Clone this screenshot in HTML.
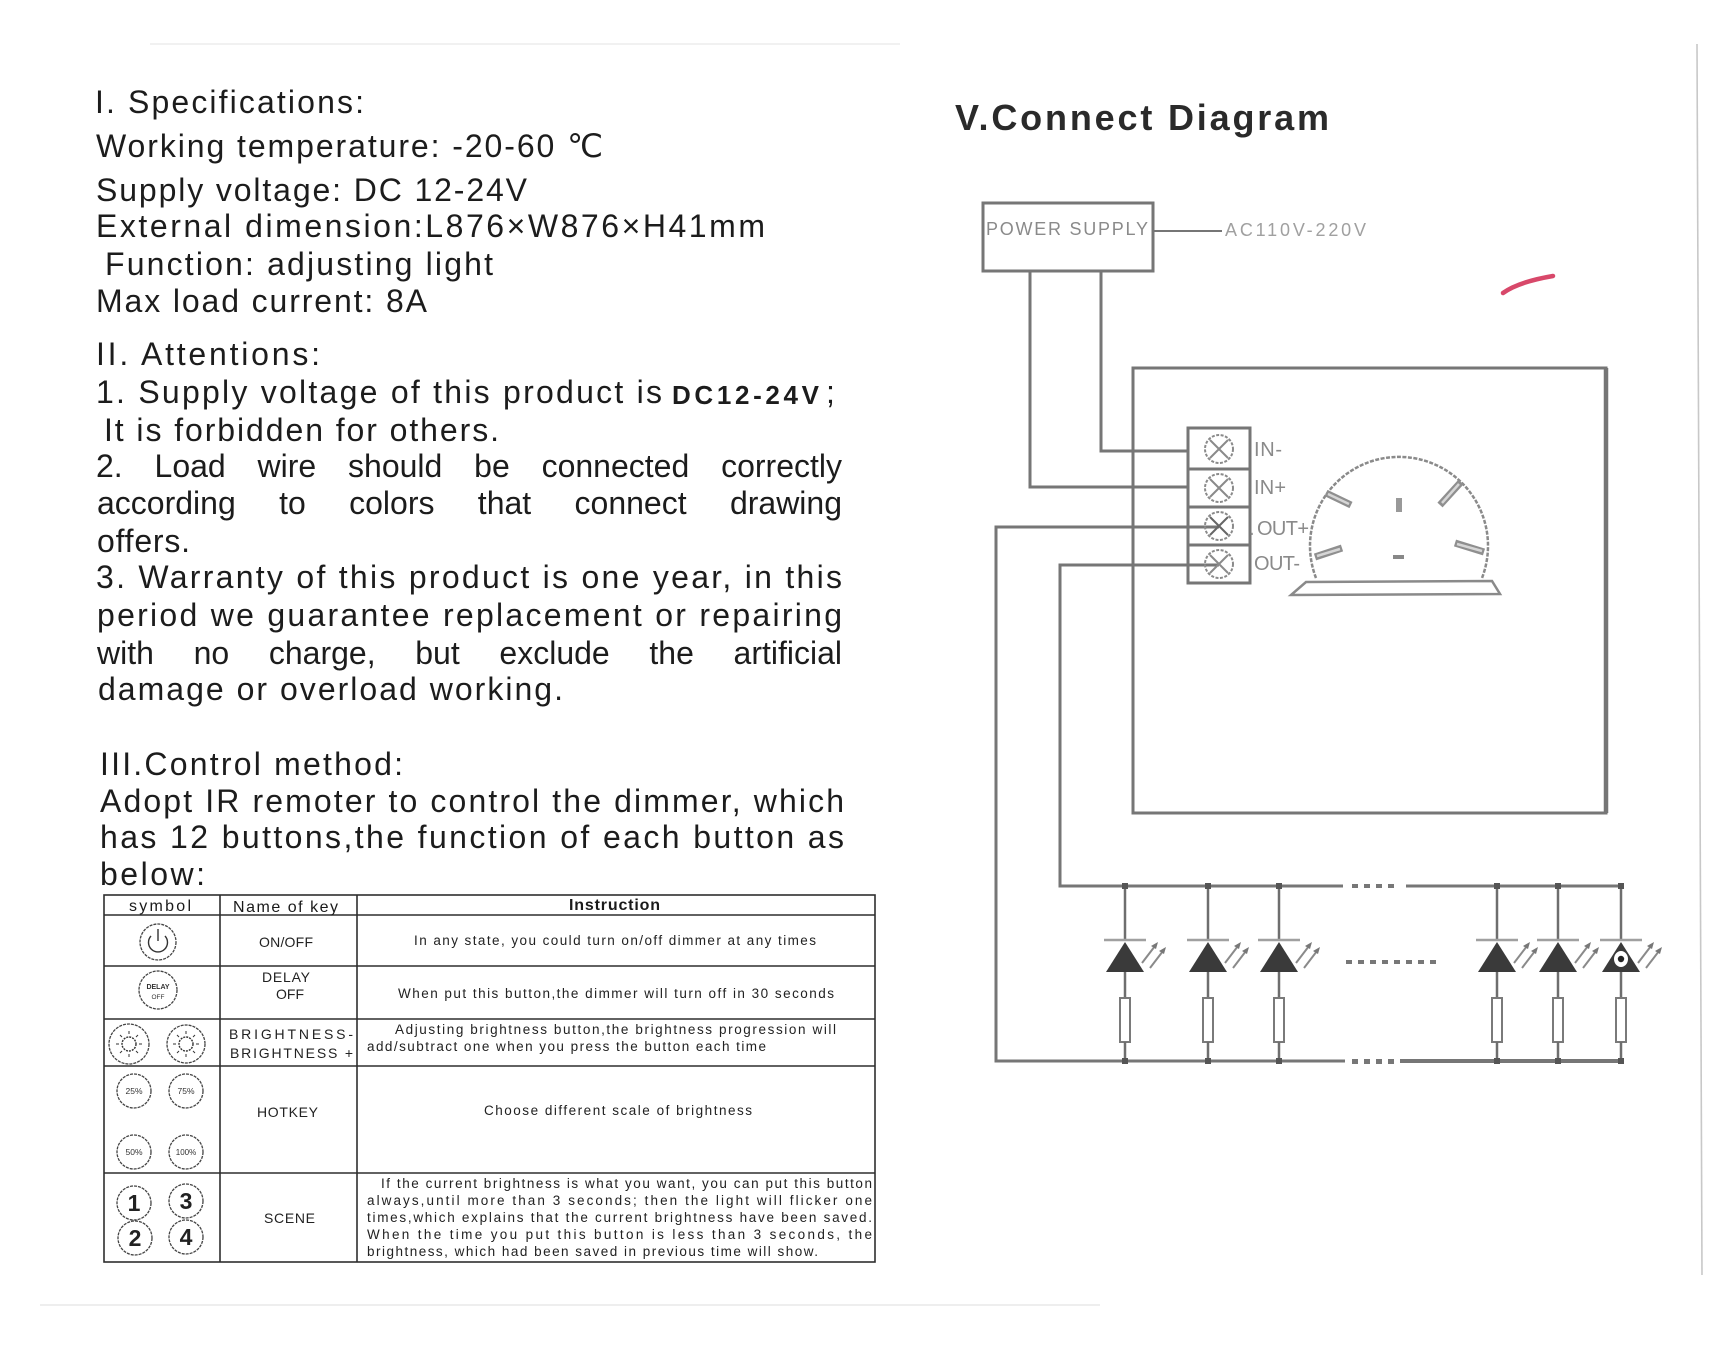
<!DOCTYPE html>
<html><head><meta charset="utf-8">
<style>
html,body{margin:0;padding:0;background:#fff;}
svg{display:block;}
.t{font-family:"Liberation Sans",Arial,sans-serif;fill:#1c1c1c;font-size:32px;}
.s{font-family:"Liberation Sans",Arial,sans-serif;fill:#222;font-size:14px;}
.h{font-family:"Liberation Sans",Arial,sans-serif;fill:#1a1a1a;font-size:16px;}
.d{font-family:"Liberation Sans",Arial,sans-serif;fill:#8a8a8a;}
</style></head><body>
<svg width="1720" height="1360" viewBox="0 0 1720 1360" xmlns="http://www.w3.org/2000/svg">
<rect width="1720" height="1360" fill="#fff"/>
<!-- faint scan edges -->
<line x1="150" y1="44" x2="900" y2="44" stroke="#f1f1f1" stroke-width="2"/>
<line x1="1697" y1="44" x2="1702" y2="1275" stroke="#c8c8c8" stroke-width="1.6"/>
<line x1="40" y1="1305" x2="1100" y2="1305" stroke="#eeeeee" stroke-width="2"/>

<!-- LEFT TEXT -->
<text class="t" x="95" y="113" textLength="269" lengthAdjust="spacing">I. Specifications:</text>
<text class="t" x="96" y="157" textLength="507" lengthAdjust="spacing">Working temperature: -20-60 ℃</text>
<text class="t" x="96" y="201" textLength="431" lengthAdjust="spacing">Supply voltage: DC 12-24V</text>
<text class="t" x="96" y="237" textLength="669" lengthAdjust="spacing">External dimension:L876×W876×H41mm</text>
<text class="t" x="105" y="275" textLength="388" lengthAdjust="spacing">Function: adjusting light</text>
<text class="t" x="96" y="312" textLength="331" lengthAdjust="spacing">Max load current: 8A</text>
<text class="t" x="96" y="365" textLength="224" lengthAdjust="spacing">II.  Attentions:</text>
<text class="t" x="96" y="403" textLength="566" lengthAdjust="spacing">1. Supply voltage of this product is</text>
<text class="t" x="672" y="404" textLength="147" lengthAdjust="spacing" style="font-size:26px;font-weight:bold">DC12-24V</text>
<text class="t" x="826" y="403">;</text>
<text class="t" x="104" y="441" textLength="395" lengthAdjust="spacing">It is forbidden for others.</text>
<text class="t j" x="96" y="477" textLength="746" lengthAdjust="spacing">2. Load wire should be connected correctly</text>
<text class="t j" x="97" y="514" textLength="745" lengthAdjust="spacing">according to colors that connect drawing</text>
<text class="t" x="97" y="552" textLength="93" lengthAdjust="spacing">offers.</text>
<text class="t" x="96" y="588" textLength="746" lengthAdjust="spacing">3. Warranty of this product is one year, in this</text>
<text class="t" x="97" y="626" textLength="745" lengthAdjust="spacing">period we guarantee replacement or repairing</text>
<text class="t j" x="97" y="664" textLength="745" lengthAdjust="spacing">with no charge, but exclude the artificial</text>
<text class="t" x="98" y="700" textLength="465" lengthAdjust="spacing">damage or overload working.</text>
<text class="t" x="100" y="775" textLength="303" lengthAdjust="spacing">III.Control method:</text>
<text class="t" x="100" y="812" textLength="744" lengthAdjust="spacing">Adopt IR remoter to control the dimmer, which</text>
<text class="t" x="100" y="848" textLength="744" lengthAdjust="spacing">has 12 buttons,the function of each button as</text>
<text class="t" x="100" y="885" textLength="105" lengthAdjust="spacing">below:</text>

<!-- TABLE -->
<g stroke="#2e2e2e" stroke-width="1.6" fill="none">
<rect x="104" y="895" width="771" height="367"/>
<line x1="104" y1="915" x2="875" y2="915"/>
<line x1="104" y1="966" x2="875" y2="966"/>
<line x1="104" y1="1019" x2="875" y2="1019"/>
<line x1="104" y1="1066" x2="875" y2="1066"/>
<line x1="104" y1="1173" x2="875" y2="1173"/>
<line x1="220" y1="895" x2="220" y2="1262"/>
<line x1="357" y1="895" x2="357" y2="1262"/>
</g>
<text class="h" x="129" y="911" textLength="62" lengthAdjust="spacing">symbol</text>
<text class="h" x="233" y="912" textLength="105" lengthAdjust="spacing">Name of key</text>
<text class="h" x="569" y="910" textLength="91" lengthAdjust="spacing" style="font-weight:bold">Instruction</text>

<text class="s" x="259" y="947" textLength="54" lengthAdjust="spacing">ON/OFF</text>
<text class="s" x="262" y="982" textLength="48" lengthAdjust="spacing">DELAY</text>
<text class="s" x="276" y="999" textLength="28" lengthAdjust="spacing">OFF</text>
<text class="s" x="229" y="1039" textLength="124" lengthAdjust="spacing">BRIGHTNESS-</text>
<text class="s" x="230" y="1058" textLength="123" lengthAdjust="spacing">BRIGHTNESS +</text>
<text class="s" x="257" y="1117" textLength="61" lengthAdjust="spacing">HOTKEY</text>
<text class="s" x="264" y="1223" textLength="51" lengthAdjust="spacing">SCENE</text>

<g class="s" style="font-size:13.5px">
<text x="414" y="945" textLength="402" lengthAdjust="spacing">In any state, you could turn on/off dimmer at any times</text>
<text x="398" y="998" textLength="436" lengthAdjust="spacing">When put this button,the dimmer will turn off in 30 seconds</text>
<text x="395" y="1034" textLength="441" lengthAdjust="spacing">Adjusting brightness button,the brightness progression will</text>
<text x="367" y="1051" textLength="399" lengthAdjust="spacing">add/subtract one when you press the button each time</text>
<text x="484" y="1115" textLength="268" lengthAdjust="spacing">Choose different scale of brightness</text>
<text x="381" y="1188" textLength="491" lengthAdjust="spacing">If the current brightness is what you want, you can put this button</text>
<text x="367" y="1205" textLength="505" lengthAdjust="spacing">always,until more than 3 seconds; then the light will flicker one</text>
<text x="367" y="1222" textLength="505" lengthAdjust="spacing">times,which explains that the current brightness have been saved.</text>
<text x="367" y="1239" textLength="505" lengthAdjust="spacing">When the time you put this button is less than 3 seconds, the</text>
<text x="367" y="1256" textLength="451" lengthAdjust="spacing">brightness, which had been saved in previous time will show.</text>
</g>

<!-- table icons -->
<g stroke="#444" stroke-width="1.3" fill="none" stroke-dasharray="3 1">
<circle cx="158" cy="942" r="18"/>
<circle cx="158" cy="990" r="19"/>
<circle cx="129" cy="1044" r="20"/>
<circle cx="186" cy="1044" r="19"/>
<circle cx="134" cy="1091" r="17"/>
<circle cx="186" cy="1091" r="17"/>
<circle cx="134" cy="1152" r="17"/>
<circle cx="186" cy="1152" r="17"/>
<circle cx="134" cy="1203" r="17"/>
<circle cx="186" cy="1201" r="17"/>
<circle cx="135" cy="1238" r="17"/>
<circle cx="186" cy="1237" r="17"/>
</g>
<g stroke="#333" stroke-width="1.4" fill="none">
<path d="M151 936 A 9.5 9.5 0 1 0 165 936"/>
<line x1="158" y1="929" x2="158" y2="941"/>
<circle cx="129" cy="1044" r="7" stroke-dasharray="2 1"/>
<circle cx="186" cy="1044" r="7" stroke-dasharray="2 1"/>
<g stroke-width="1">
<line x1="129" y1="1034" x2="129" y2="1031"/><line x1="129" y1="1054" x2="129" y2="1057"/>
<line x1="119" y1="1044" x2="116" y2="1044"/><line x1="139" y1="1044" x2="142" y2="1044"/>
<line x1="122" y1="1037" x2="120" y2="1035"/><line x1="136" y1="1037" x2="138" y2="1035"/>
<line x1="122" y1="1051" x2="120" y2="1053"/><line x1="136" y1="1051" x2="138" y2="1053"/>
<line x1="186" y1="1034" x2="186" y2="1031"/><line x1="186" y1="1054" x2="186" y2="1057"/>
<line x1="176" y1="1044" x2="173" y2="1044"/><line x1="196" y1="1044" x2="199" y2="1044"/>
<line x1="179" y1="1037" x2="177" y2="1035"/><line x1="193" y1="1037" x2="195" y2="1035"/>
<line x1="179" y1="1051" x2="177" y2="1053"/><line x1="193" y1="1051" x2="195" y2="1053"/>
</g>
</g>
<g font-family="Liberation Sans, Arial, sans-serif" fill="#333" text-anchor="middle">
<text x="158" y="989" font-size="7" font-weight="bold">DELAY</text>
<text x="158" y="999" font-size="6.5">OFF</text>
<text x="134" y="1094" font-size="8.5">25%</text>
<text x="186" y="1094" font-size="8.5">75%</text>
<text x="134" y="1155" font-size="8.5">50%</text>
<text x="186" y="1155" font-size="8">100%</text>
<text x="134" y="1211" font-size="23" font-weight="bold" fill="#222">1</text>
<text x="186" y="1209" font-size="23" font-weight="bold" fill="#222">3</text>
<text x="135" y="1246" font-size="23" font-weight="bold" fill="#222">2</text>
<text x="186" y="1245" font-size="23" font-weight="bold" fill="#222">4</text>
</g>

<!-- RIGHT: DIAGRAM -->
<text x="955" y="130" font-family="Liberation Sans, Arial, sans-serif" font-size="36" font-weight="bold" fill="#2a2a2a" textLength="374" lengthAdjust="spacing">V.Connect Diagram</text>

<g stroke="#767676" stroke-width="3" fill="none">
<rect x="983" y="203" width="170" height="68"/>
<line x1="1153" y1="231" x2="1222" y2="231" stroke-width="2"/>
<polyline points="1101,271 1101,451 1219,451"/>
<polyline points="1030,271 1030,487 1219,487"/>
<rect x="1133" y="368" width="473" height="445"/>
<line x1="1606" y1="368" x2="1606" y2="813" stroke-width="4.5"/>
<rect x="1188" y="428" width="62" height="155" fill="#fff"/>
<line x1="1188" y1="469" x2="1250" y2="469"/>
<line x1="1188" y1="507" x2="1250" y2="507"/>
<line x1="1188" y1="545" x2="1250" y2="545"/>
<polyline points="1219,527 996,527 996,1061 1345,1061"/>
<polyline points="1219,565 1060,565 1060,886 1343,886"/>
<line x1="1406" y1="886" x2="1621" y2="886"/>
<line x1="1400" y1="1061" x2="1621" y2="1061" stroke-width="4"/>
</g>
<!-- screws -->
<g stroke="#8a8a8a" stroke-width="2" fill="none">
<circle cx="1219" cy="449" r="14" stroke-dasharray="3 1.5"/>
<circle cx="1219" cy="488" r="14" stroke-dasharray="3 1.5"/>
<circle cx="1219" cy="526" r="14" stroke-dasharray="3 1.5"/>
<circle cx="1219" cy="564" r="14" stroke-dasharray="3 1.5"/>
<path d="M1210 440 L1228 458 M1228 440 L1210 458"/>
<path d="M1210 479 L1228 497 M1228 479 L1210 497"/>
<path d="M1210 517 L1228 535 M1228 517 L1210 535" stroke="#666"/>
<path d="M1210 555 L1228 573 M1228 555 L1210 573"/>
</g>
<g class="d" font-size="20">
<text x="1254" y="456" textLength="28" lengthAdjust="spacing">IN-</text>
<text x="1254" y="494" textLength="32" lengthAdjust="spacing">IN+</text>
<text x="1249" y="535">.</text>
<text x="1257" y="535" textLength="52" lengthAdjust="spacing">OUT+</text>
<text x="1254" y="570" textLength="46" lengthAdjust="spacing">OUT-</text>
</g>
<text class="d" x="986" y="235" font-size="18" textLength="162" lengthAdjust="spacing">POWER SUPPLY</text>
<text class="d" x="1225" y="236" font-size="18" textLength="141" lengthAdjust="spacing" style="fill:#a0a0a0">AC110V-220V</text>

<!-- red mark -->
<path d="M1503 293 Q1518 282 1553 276" stroke="#d8486a" stroke-width="4.5" fill="none" stroke-linecap="round"/>

<!-- knob -->
<g stroke="#8a8a8a" stroke-width="2.5" fill="none">
<path d="M1316 578 A 89 89 0 1 1 1482 578" stroke-dasharray="4 1.5"/>
<polygon points="1306,582 1492,581 1500,594 1291,595"/>
</g>
<g stroke="#8f8f8f" stroke-width="7" fill="none">
<line x1="1326" y1="493" x2="1351" y2="505"/>
<line x1="1440" y1="505" x2="1461" y2="482"/>
<line x1="1315" y1="557" x2="1342" y2="548"/>
<line x1="1455" y1="543" x2="1484" y2="552"/>
</g>
<g stroke="#d6d6d6" stroke-width="2.5" fill="none">
<line x1="1328" y1="494" x2="1349" y2="504"/>
<line x1="1442" y1="503" x2="1459" y2="484"/>
<line x1="1317" y1="556" x2="1340" y2="549"/>
<line x1="1457" y1="544" x2="1482" y2="551"/>
</g>
<rect x="1396" y="498" width="6" height="14" fill="#999"/>
<rect x="1393" y="555" width="11" height="4" fill="#888"/>

<!-- rail dashes -->
<g fill="#777">
<rect x="1352" y="884" width="6" height="4"/><rect x="1364" y="884" width="6" height="4"/><rect x="1376" y="884" width="6" height="4"/><rect x="1388" y="884" width="6" height="4"/>
<rect x="1352" y="1059" width="6" height="5"/><rect x="1364" y="1059" width="6" height="5"/><rect x="1376" y="1059" width="6" height="5"/><rect x="1388" y="1059" width="6" height="5"/>
<rect x="1346" y="960" width="6" height="4"/><rect x="1358" y="960" width="6" height="4"/><rect x="1370" y="960" width="6" height="4"/><rect x="1382" y="960" width="6" height="4"/>
<rect x="1394" y="960" width="6" height="4"/><rect x="1406" y="960" width="6" height="4"/><rect x="1418" y="960" width="6" height="4"/><rect x="1430" y="960" width="6" height="4"/>
</g>

<!-- LEDs -->
<defs>
<g id="led">
<line x1="0" y1="886" x2="0" y2="940" stroke="#6e6e6e" stroke-width="2.5"/>
<line x1="-21" y1="940" x2="21" y2="940" stroke="#a0a0a0" stroke-width="2.5"/>
<polygon points="0,942 -19,972 19,972" fill="#3a3a3a"/>
<line x1="0" y1="972" x2="0" y2="998" stroke="#6e6e6e" stroke-width="2.5"/>
<rect x="-5" y="998" width="10" height="44" fill="#fff" stroke="#7a7a7a" stroke-width="2"/>
<line x1="0" y1="1042" x2="0" y2="1061" stroke="#6e6e6e" stroke-width="2.5"/>
<rect x="-3" y="883" width="6" height="6" fill="#555"/>
<rect x="-3" y="1058" width="6" height="6" fill="#555"/>
<g stroke="#8a8a8a" stroke-width="2" fill="none">
<line x1="17" y1="963" x2="30" y2="946"/>
<line x1="25" y1="968" x2="38" y2="951"/>
</g>
<polygon points="33,942 26,946 31,949" fill="#777"/>
<polygon points="41,947 34,951 39,954" fill="#777"/>
</g>
</defs>
<use href="#led" x="1125"/>
<use href="#led" x="1208"/>
<use href="#led" x="1279"/>
<use href="#led" x="1497"/>
<use href="#led" x="1558"/>
<use href="#led" x="1621"/>
<ellipse cx="1621" cy="959" rx="7" ry="8" fill="#fff"/>
<circle cx="1621" cy="959" r="3.2" fill="#222"/>
</svg>
<script>
(function(){
  var els=document.querySelectorAll('text.j');
  for(var i=0;i<els.length;i++){
    var t=els[i];
    var w=parseFloat(t.getAttribute('textLength'));
    try{
      t.removeAttribute('textLength');t.removeAttribute('lengthAdjust');
      var L=t.getComputedTextLength();
      var n=(t.textContent.match(/ /g)||[]).length;
      if(n>0 && w>L){t.style.wordSpacing=((w-L)/n)+'px';}
      else{t.setAttribute('textLength',w);t.setAttribute('lengthAdjust','spacing');}
    }catch(e){t.setAttribute('textLength',w);t.setAttribute('lengthAdjust','spacing');}
  }
})();
</script>
</body></html>
